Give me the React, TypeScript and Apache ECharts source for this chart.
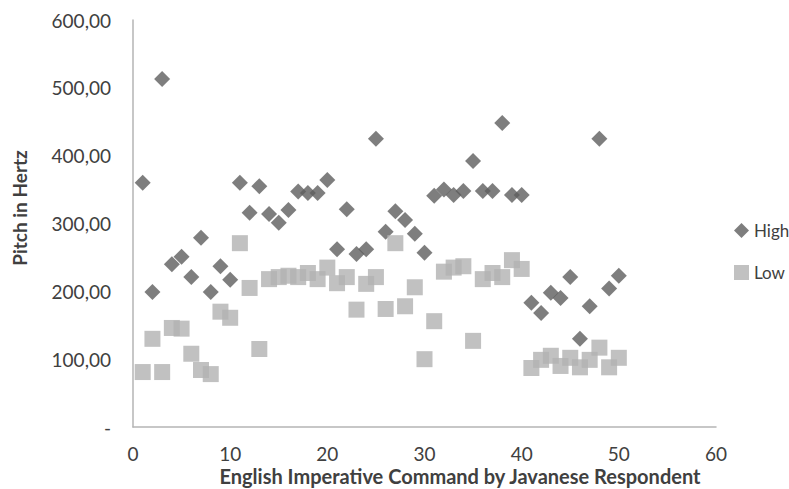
import React, { useEffect, useRef } from "react";
import * as echarts from "echarts";

const respondents = [
  1, 2, 3, 4, 5, 6, 7, 8, 9, 10, 11, 12, 13, 14, 15, 16, 17, 18, 19, 20, 21, 22, 23, 24, 25,
  26, 27, 28, 29, 30, 31, 32, 33, 34, 35, 36, 37, 38, 39, 40, 41, 42, 43, 44, 45, 46, 47, 48, 49, 50,
];

const highPitch = [
  360, 199, 513, 240, 251, 221, 279, 199, 237, 217, 360, 316, 355, 314, 301, 320, 347, 345, 345, 364,
  262, 321, 255, 262, 425, 288, 318, 305, 285, 257, 341, 350, 342, 348, 392, 348, 348, 448, 342, 342,
  183, 168, 198, 190, 221, 130, 178, 425, 204, 223,
];

const lowPitch = [
  81, 130, 81, 146, 145, 108, 84, 78, 170, 161, 271, 205, 115, 218, 221, 223, 221, 227, 218, 235,
  212, 221, 173, 211, 221, 174, 271, 178, 206, 100, 156, 229, 235, 237, 127, 218, 227, 221, 246, 233,
  87, 99, 105, 90, 102, 88, 99, 117, 88, 102,
];

const seriesNames = ["High", "Low"];

const FONT = "Lato, 'Open Sans', sans-serif";

export default function App() {
  const ref = useRef<HTMLDivElement>(null);
  useEffect(() => {
    if (!ref.current) return;
    const chart = echarts.init(ref.current, undefined, { renderer: "svg" });
    const toPairs = (vals: number[]) => respondents.map((r, i) => [r, vals[i]]);
    chart.setOption({
      animation: false,
      backgroundColor: "#ffffff",
      textStyle: { fontFamily: FONT },
      grid: { left: 133, right: 73, top: 20, bottom: 62, containLabel: false },
      legend: {
        orient: "vertical",
        left: 729,
        top: 217,
        itemGap: 25,
        itemWidth: 15,
        itemHeight: 15,
        textStyle: { fontSize: 17, color: "#404040", fontFamily: FONT },
        data: [
          { name: seriesNames[0], icon: "diamond" },
          { name: seriesNames[1], icon: "rect" },
        ],
      },
      xAxis: {
        type: "value",
        min: 0,
        max: 60,
        interval: 10,
        splitLine: { show: false },
        axisTick: { show: false },
        axisLine: { show: true, onZero: false, lineStyle: { color: "#b5b5b5", width: 1.5 } },
        axisLabel: { color: "#404040", fontSize: 19, margin: 17, fontFamily: FONT },
      },
      yAxis: {
        type: "value",
        min: 0,
        max: 600,
        interval: 100,
        splitLine: { show: false },
        axisTick: { show: false },
        axisLine: { show: true, lineStyle: { color: "#b5b5b5", width: 1.5 } },
        axisLabel: {
          color: "#404040",
          fontSize: 19,
          margin: 22,
          fontFamily: FONT,
          formatter: (v: number) => (v === 0 ? "-" : v.toFixed(2).replace(".", ",")),
        },
      },
      graphic: [
        {
          type: "text",
          x: 19,
          y: 208,
          rotation: Math.PI / 2,
          style: {
            text: "Pitch in Hertz",
            fontSize: 19,
            fontWeight: "bold",
            fontFamily: FONT,
            fill: "#404040",
            textAlign: "center",
            textVerticalAlign: "middle",
          },
        },
        {
          type: "text",
          x: 460,
          y: 476,
          style: {
            text: "English Imperative Command by Javanese Respondent",
            fontSize: 20,
            fontWeight: "bold",
            fontFamily: FONT,
            fill: "#404040",
            textAlign: "center",
            textVerticalAlign: "middle",
          },
        },
      ],
      series: [
        {
          name: seriesNames[0],
          type: "scatter",
          symbol: "diamond",
          symbolSize: 16,
          itemStyle: { color: "#5e5e5e" },
          data: toPairs(highPitch),
        },
        {
          name: seriesNames[1],
          type: "scatter",
          symbol: "rect",
          symbolSize: 16,
          itemStyle: { color: "#b2b2b2" },
          data: toPairs(lowPitch),
        },
      ],
    });
    return () => chart.dispose();
  }, []);
  return (
    <div
      ref={ref}
      style={{ position: "fixed", left: 0, top: 0, width: 789, height: 489 }}
    />
  );
}
